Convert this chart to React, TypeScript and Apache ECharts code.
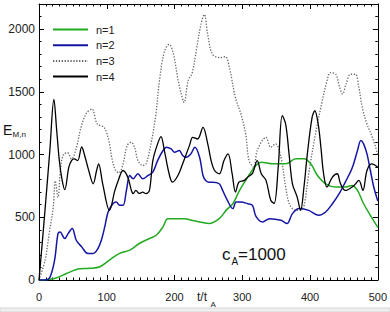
import React, { useEffect, useRef } from "react";
import * as echarts from "echarts";

// n=1 (green)
const T1 = [0, 5, 15, 25, 40, 60, 75, 90, 104, 119, 134, 148, 163, 173, 183, 190, 202, 215, 225, 237, 251, 266, 276, 286, 296, 308, 320, 328, 345, 364, 379, 391, 401, 411, 423, 438, 452, 462, 470, 479, 489, 500];
const E1 = [0, 0, 5, 16, 50, 90, 93, 106, 159, 212, 238, 291, 331, 357, 423, 489, 489, 489, 476, 463, 450, 489, 555, 608, 714, 820, 913, 939, 926, 926, 966, 966, 926, 833, 767, 741, 741, 754, 714, 608, 516, 420];

// n=2 (blue)
const T2 = [0, 9, 16, 23, 28, 31, 38, 43, 49, 55, 63, 72, 80, 87, 92, 97, 102, 109, 114, 119, 124, 129, 134, 139, 146, 153, 161, 168, 175, 183, 188, 195, 200, 207, 212, 217, 224, 230, 237, 242, 246, 251, 256, 266, 271, 278, 286, 291, 298, 308, 315, 320, 330, 340, 357, 366, 374, 384, 398, 413, 423, 433, 443, 452, 462, 470, 475, 479, 484, 489, 494, 500];
const E2 = [0, 0, 20, 159, 370, 383, 331, 370, 410, 317, 264, 212, 212, 251, 317, 423, 542, 608, 621, 595, 595, 714, 833, 807, 847, 807, 833, 860, 952, 1032, 1058, 1045, 1018, 1032, 992, 979, 1005, 1058, 979, 833, 794, 780, 780, 767, 714, 635, 569, 621, 621, 608, 595, 510, 463, 489, 476, 450, 529, 569, 555, 516, 542, 608, 688, 780, 890, 1032, 1111, 1085, 1005, 873, 741, 630];

// n=3 (dotted grey)
const T3 = [0, 9, 15, 21, 24, 28, 32, 36, 42, 48, 55, 62, 70, 78, 86, 96, 103, 108, 113, 118, 124, 130, 136, 141, 146, 153, 158, 165, 172, 178, 185, 192, 198, 205, 210, 214, 220, 226, 232, 239, 244, 249, 256, 268, 275, 281, 290, 298, 305, 310, 317, 322, 335, 342, 349, 357, 364, 370, 379, 386, 391, 398, 408, 418, 425, 430, 438, 443, 448, 453, 460, 467, 472, 477, 484, 492, 500];
const E3 = [0, 159, 370, 580, 790, 660, 900, 1000, 1015, 965, 1050, 1217, 1330, 1362, 1243, 1217, 1111, 960, 873, 855, 926, 1070, 1098, 1058, 952, 913, 926, 1080, 1300, 1600, 1820, 1878, 1810, 1600, 1482, 1415, 1587, 1650, 1825, 2037, 2116, 1958, 1799, 1772, 1780, 1693, 1450, 1323, 1164, 952, 899, 1032, 1137, 1058, 1085, 979, 741, 600, 555, 560, 590, 847, 1164, 1429, 1587, 1653, 1640, 1548, 1482, 1561, 1640, 1640, 1534, 1376, 1243, 1137, 1000];

// n=4 (black)
const T4 = [0, 8, 16, 22, 26, 30, 34, 38, 44, 48, 52, 57, 63, 68, 73, 80, 85, 88, 94, 104, 112, 117, 124, 131, 136, 139, 143, 148, 153, 158, 163, 168, 175, 180, 185, 192, 197, 205, 212, 222, 227, 234, 242, 249, 254, 259, 266, 273, 279, 285, 290, 295, 303, 308, 315, 322, 328, 335, 342, 347, 353, 359, 364, 369, 374, 381, 386, 391, 396, 403, 407, 412, 416, 420, 425, 433, 440, 445, 452, 465, 472, 478, 484, 491, 500];
const E4 = [0, 500, 1032, 1440, 1200, 952, 800, 720, 900, 952, 966, 952, 1060, 980, 880, 767, 873, 926, 767, 555, 714, 794, 873, 820, 720, 688, 714, 690, 700, 688, 714, 952, 1085, 1143, 1032, 847, 780, 833, 926, 1071, 1137, 1124, 1217, 1085, 952, 873, 847, 952, 1005, 847, 701, 780, 794, 820, 850, 952, 847, 794, 635, 611, 899, 1310, 1243, 1005, 767, 661, 555, 741, 1005, 1296, 1349, 1243, 1058, 847, 741, 820, 847, 767, 714, 754, 794, 714, 873, 926, 900];

const NAMES = ["n=1", "n=2", "n=3", "n=4"];
const X_TICKS = { min: 0, max: 500, major: 100, minorSplit: 10 };
const Y_TICKS = { min: 0, max: 2200, major: 500, minor: 100 };

const FONT = "Liberation Sans";

function pairs(t: number[], e: number[]) {
  return t.map((v, i) => [v, e[i]]);
}

export default function App() {
  const ref = useRef<HTMLDivElement>(null);
  useEffect(() => {
    document.body.style.margin = "0";
    if (!ref.current) return;
    const chart = echarts.init(ref.current, undefined, { renderer: "svg" });
    const axisLine = { show: true, onZero: false, lineStyle: { color: "#000", width: 1 } };
    const xBase = {
      type: "value",
      min: X_TICKS.min,
      max: X_TICKS.max,
      interval: X_TICKS.major,
      axisLine,
      axisTick: { show: true, inside: true, length: 5, lineStyle: { color: "#000", width: 1 } },
      minorTick: { show: true, splitNumber: X_TICKS.minorSplit, length: 2.5, lineStyle: { color: "#000", width: 1 } },
      splitLine: { show: false },
      minorSplitLine: { show: false },
    };
    const yMajor = {
      type: "value",
      min: Y_TICKS.min,
      max: Y_TICKS.max,
      interval: Y_TICKS.major,
      axisLine,
      axisTick: { show: true, inside: true, length: 5, lineStyle: { color: "#000", width: 1 } },
      splitLine: { show: false },
    };
    const yMinor = {
      type: "value",
      min: Y_TICKS.min,
      max: Y_TICKS.max,
      interval: Y_TICKS.minor,
      axisLine: { show: false, onZero: false },
      axisTick: { show: true, inside: true, length: 2.5, lineStyle: { color: "#000", width: 1 } },
      axisLabel: { show: false },
      splitLine: { show: false },
    };
    const lineCommon = {
      type: "line",
      xAxisIndex: 0,
      yAxisIndex: 0,
      symbol: "none",
      showSymbol: false,
      smooth: 0.35,
    };
    chart.setOption({
      animation: false,
      backgroundColor: "#fff",
      grid: { left: 39, right: 11, top: 4, bottom: 32 },
      legend: {
        orient: "vertical",
        left: 47,
        top: 19,
        itemWidth: 35,
        itemHeight: 10,
        itemGap: 4.7,
        data: NAMES,
        itemStyle: { color: "transparent", borderWidth: 0, opacity: 0 },
        textStyle: { fontSize: 11, color: "#222", fontFamily: FONT, padding: [0, 0, 0, 3] },
      },
      xAxis: [
        {
          ...xBase,
          position: "bottom",
          axisLabel: { show: true, fontSize: 11, color: "#222", margin: 11, fontFamily: FONT },
        },
        { ...xBase, position: "top", axisLabel: { show: false } },
      ],
      yAxis: [
        {
          ...yMajor,
          position: "left",
          axisLabel: {
            show: true,
            fontSize: 12,
            color: "#222",
            margin: 4,
            fontFamily: FONT,
            showMaxLabel: false,
            formatter: (v: number) => String(v),
          },
        },
        { ...yMajor, position: "right", axisLabel: { show: false } },
        { ...yMinor, position: "left" },
        { ...yMinor, position: "right" },
      ],
      series: [
        { ...lineCommon, name: NAMES[2], data: pairs(T3, E3), lineStyle: { color: "#666", width: 1.3, type: [1.3, 1.6] }, itemStyle: { color: "#666" } },
        { ...lineCommon, name: NAMES[0], data: pairs(T1, E1), lineStyle: { color: "#22aa22", width: 1.5 }, itemStyle: { color: "#22aa22" } },
        { ...lineCommon, name: NAMES[1], data: pairs(T2, E2), lineStyle: { color: "#1515a5", width: 1.5 }, itemStyle: { color: "#1515a5" } },
        { ...lineCommon, name: NAMES[3], data: pairs(T4, E4), lineStyle: { color: "#000", width: 1.3 }, itemStyle: { color: "#000" } },
      ],
      graphic: [
        { type: "text", style: { text: "E", x: 3, y: 130, fill: "#111", font: `14px "${FONT}"`, verticalAlign: "middle" } },
        { type: "text", style: { text: "M,n", x: 12.5, y: 134, fill: "#111", font: `8px "${FONT}"`, verticalAlign: "middle" } },
        { type: "text", style: { text: "t/t", x: 197, y: 297, fill: "#222", font: `12px "${FONT}"`, verticalAlign: "middle" } },
        { type: "text", style: { text: "A", x: 210.5, y: 304, fill: "#222", font: `8px "${FONT}"`, verticalAlign: "middle" } },
        { type: "text", style: { text: "c", x: 222, y: 254, fill: "#111", font: `17px "${FONT}"`, verticalAlign: "middle" } },
        { type: "text", style: { text: "A", x: 231.5, y: 261, fill: "#111", font: `10px "${FONT}"`, verticalAlign: "middle" } },
        { type: "text", style: { text: "=1000", x: 238, y: 254, fill: "#111", font: `17px "${FONT}"`, verticalAlign: "middle" } },
        { type: "rect", shape: { x: 0, y: 308, width: 390, height: 4 }, style: { fill: "#efefef", stroke: "#d4d4d4", lineWidth: 1 } },
      ],
    });
    return () => chart.dispose();
  }, []);
  return <div ref={ref} style={{ width: 390, height: 312 }} />;
}
